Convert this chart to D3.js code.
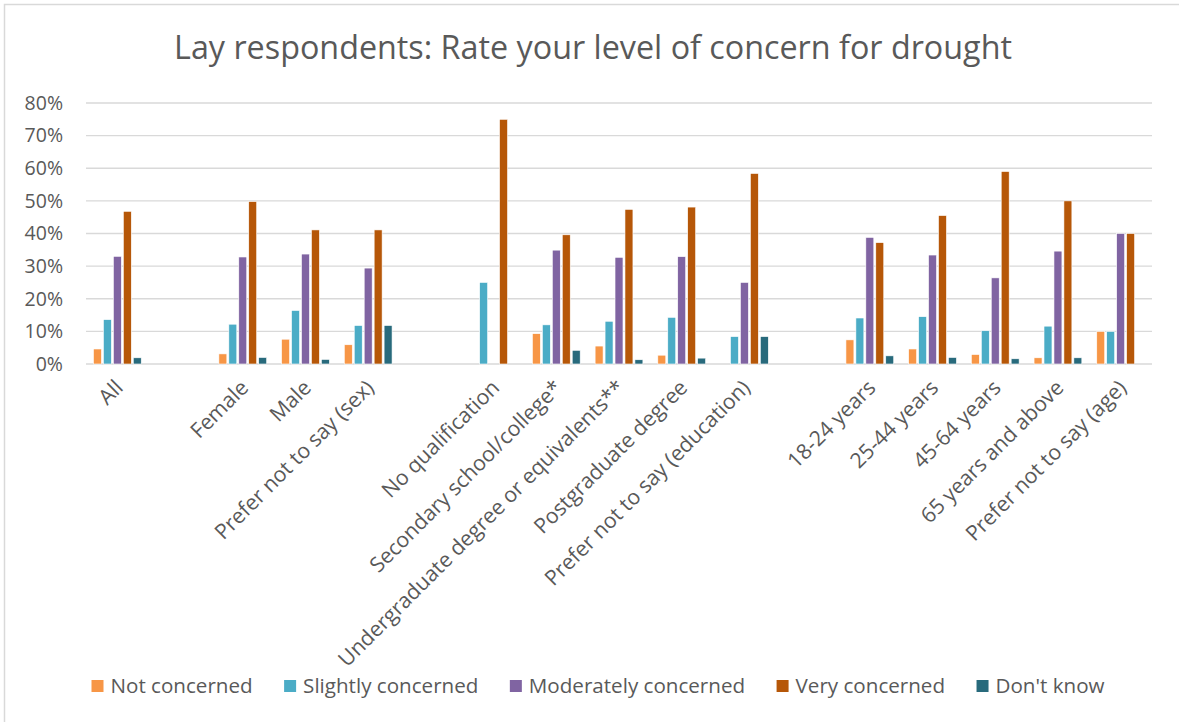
<!DOCTYPE html>
<html>
<head>
<meta charset="utf-8">
<script src="https://cdn.jsdelivr.net/npm/d3@7"></script>
<style>
  html, body { margin: 0; padding: 0; background: #fff; }
  svg { display: block; font-family: "Open Sans", sans-serif; }
</style>
</head>
<body>
<svg id="chart" width="1179" height="722"></svg>
<script>
// Survey categories, grouped (a blank slot separates each group on the axis)
const groups = [
  ["All"],
  ["Female", "Male", "Prefer not to say (sex)"],
  ["No qualification", "Secondary school/college*", "Undergraduate degree or equivalents**",
   "Postgraduate degree", "Prefer not to say (education)"],
  ["18-24 years", "25-44 years", "45-64 years", "65 years and above", "Prefer not to say (age)"]
];

const seriesNames = ["Not concerned", "Slightly concerned", "Moderately concerned", "Very concerned", "Don't know"];
const seriesColors = ["#F79646", "#4BACC6", "#8064A2", "#B65708", "#286A7C"];

// Share of respondents (%) per category, in the order of the groups above
const notConcerned      = [4.6, 3.1, 7.6, 5.9, 0, 9.3, 5.5, 2.7, 0, 7.4, 4.6, 2.9, 1.9, 10.0];
const slightlyConcerned = [13.6, 12.2, 16.4, 11.8, 25.0, 12.0, 13.1, 14.3, 8.4, 14.1, 14.5, 10.2, 11.6, 10.0];
const moderatelyConcerned = [33.0, 32.8, 33.7, 29.4, 0, 34.9, 32.7, 32.9, 25.0, 38.8, 33.4, 26.4, 34.6, 40.0];
const veryConcerned     = [46.8, 49.8, 41.1, 41.1, 75.0, 39.6, 47.4, 48.1, 58.4, 37.2, 45.5, 59.0, 50.0, 40.0];
const dontKnow          = [1.9, 2.0, 1.4, 11.8, 0, 4.2, 1.3, 1.8, 8.4, 2.5, 2.0, 1.6, 1.9, 0];

const yTicks = [0, 10, 20, 30, 40, 50, 60, 70, 80];
const title = "Lay respondents: Rate your level of concern for drought";

const seriesValues = [notConcerned, slightlyConcerned, moderatelyConcerned, veryConcerned, dontKnow];
const categories = groups.flat();

// Axis slots: categories with an empty slot between groups
const slots = [];
groups.forEach((g, gi) => {
  if (gi > 0) slots.push("__gap" + gi);
  g.forEach(c => slots.push(c));
});

const rows = categories.map((c, i) => ({
  category: c,
  values: seriesNames.map((s, si) => ({ series: s, color: seriesColors[si], value: seriesValues[si][i] }))
}));

const svg = d3.select("#chart");
const textColor = "#595959";
const gridColor = "#D9D9D9";

// Chart frame
svg.append("rect")
  .attr("x", 4.5).attr("y", 4.5)
  .attr("width", 1190).attr("height", 730)
  .attr("fill", "none").attr("stroke", gridColor).attr("stroke-width", 1.5);

const plot = { left: 86, right: 1152, top: 103, bottom: 364 };

const x = d3.scaleBand().domain(slots).range([plot.left, plot.right]).paddingInner(0).paddingOuter(0);
const x1 = d3.scaleBand().domain(seriesNames).range([0, x.bandwidth()]).paddingInner(0.2).paddingOuter(0.75);
const y = d3.scaleLinear().domain([0, 80]).range([plot.bottom, plot.top]);

// Title
svg.append("text")
  .attr("x", 593).attr("y", 59)
  .attr("text-anchor", "middle")
  .attr("fill", textColor)
  .attr("font-size", 32.3)
  .text(title);

// Gridlines
svg.append("g")
  .selectAll("line")
  .data(yTicks)
  .join("line")
  .attr("x1", plot.left).attr("x2", plot.right)
  .attr("y1", d => y(d)).attr("y2", d => y(d))
  .attr("stroke", gridColor).attr("stroke-width", 1.4);

// Y axis labels
const yAxis = d3.axisLeft(y).tickValues(yTicks).tickFormat(d => d + "%").tickSize(0).tickPadding(23);
const yg = svg.append("g").attr("transform", `translate(${plot.left},0)`).call(yAxis);
yg.select(".domain").remove();
yg.selectAll("text").attr("fill", textColor).attr("font-size", 19.5).attr("font-family", "Open Sans");

// Bars
const groupsSel = svg.append("g")
  .selectAll("g")
  .data(rows)
  .join("g")
  .attr("transform", d => `translate(${x(d.category)},0)`);

groupsSel.selectAll("rect")
  .data(d => d.values.filter(v => v.value > 0))
  .join("rect")
  .attr("x", d => x1(d.series))
  .attr("width", x1.bandwidth())
  .attr("y", d => y(d.value))
  .attr("height", d => y(0) - y(d.value))
  .attr("fill", d => d.color)
  .attr("stroke", "#fff")
  .attr("stroke-width", 0.6);

// Category labels, rotated
const xAxis = d3.axisBottom(x).tickValues(categories).tickSize(0).tickPadding(0);
const xg = svg.append("g").attr("transform", `translate(0,${plot.bottom})`).call(xAxis);
xg.select(".domain").remove();
xg.selectAll("text")
  .attr("fill", textColor)
  .attr("font-size", 21.2)
  .attr("font-family", "Open Sans")
  .attr("text-anchor", "end")
  .attr("dy", 0)
  .attr("y", 0)
  .attr("transform", "translate(7,25) rotate(-45)");

// Legend
const legend = svg.append("g").attr("transform", "translate(0,686)");
const items = legend.selectAll("g").data(seriesNames).join("g");
items.append("rect")
  .attr("width", 12).attr("height", 12).attr("y", -6)
  .attr("fill", (d, i) => seriesColors[i]);
items.append("text")
  .attr("x", 19).attr("dy", "0.35em")
  .attr("fill", textColor).attr("font-size", 20.6)
  .text(d => d);
const widths = [];
items.each(function () {
  widths.push(19 + this.querySelector("text").getComputedTextLength());
});
const gap = 31.5;
const total = d3.sum(widths) + gap * (widths.length - 1);
let offset = 598 - total / 2;
items.attr("transform", (d, i) => {
  const t = `translate(${offset},0)`;
  offset += widths[i] + gap;
  return t;
});
</script>
</body>
</html>
